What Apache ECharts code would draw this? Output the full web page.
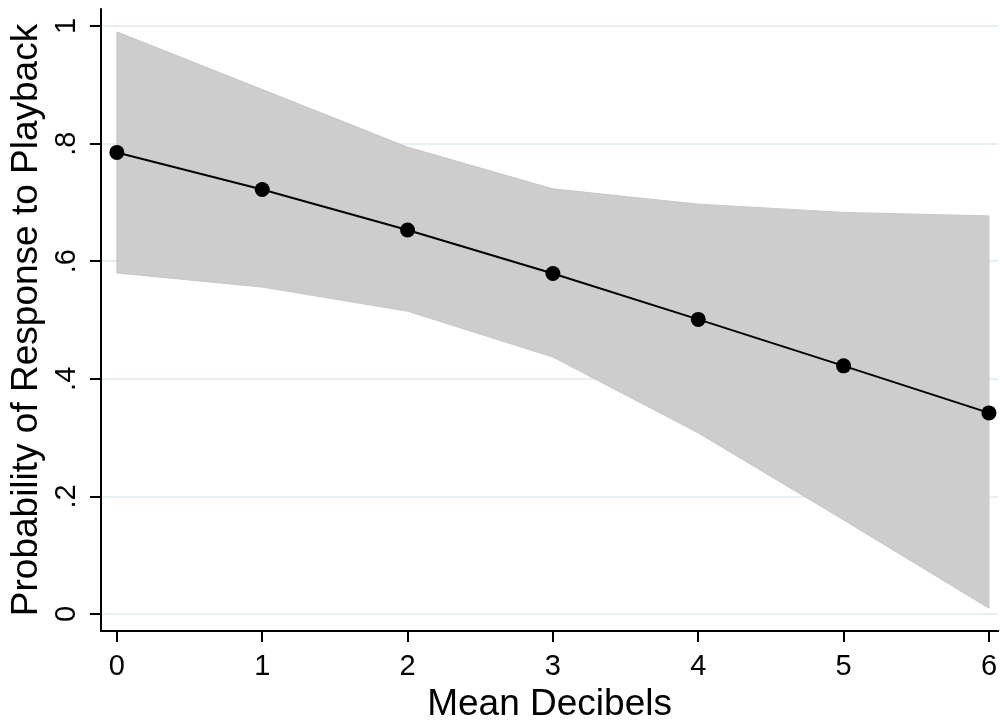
<!DOCTYPE html>
<html>
<head>
<meta charset="utf-8">
<script src="https://cdn.jsdelivr.net/npm/echarts@6/dist/echarts.min.js"></script>
<style>
html,body{margin:0;padding:0;background:#fff;}
#chart{width:1000px;height:728px;}
</style>
</head>
<body>
<div id="chart"></div>
<script>
// Data
var xValues = [0, 1, 2, 3, 4, 5, 6];
var predicted = [0.785, 0.722, 0.653, 0.579, 0.501, 0.422, 0.342];
var upperCI = [0.990, 0.892, 0.794, 0.723, 0.697, 0.683, 0.677];
var lowerCI = [0.580, 0.556, 0.515, 0.437, 0.308, 0.160, 0.010];
var xTicks = [0, 1, 2, 3, 4, 5, 6];
var xTickLabels = ['0', '1', '2', '3', '4', '5', '6'];
var yTicks = [0, 0.2, 0.4, 0.6, 0.8, 1];
var yTickLabels = ['0', '.2', '.4', '.6', '.8', '1'];

var FONT = '"Liberation Sans", Arial, sans-serif';

function pairs(ys) {
  return xValues.map(function (x, i) { return [x, ys[i]]; });
}
var bandData = xValues.map(function (x, i) { return [x, lowerCI[i], upperCI[i]]; });

function labelFor(ticks, labels) {
  return function (v) {
    for (var i = 0; i < ticks.length; i++) {
      if (Math.abs(ticks[i] - v) < 1e-6) return labels[i];
    }
    return '';
  };
}

function renderBand(params, api) {
  if (params.dataIndex !== 0) return null;
  var pts = [];
  for (var i = 0; i < bandData.length; i++) {
    pts.push(api.coord([bandData[i][0], bandData[i][2]]));
  }
  for (var j = bandData.length - 1; j >= 0; j--) {
    pts.push(api.coord([bandData[j][0], bandData[j][1]]));
  }
  return {
    type: 'polygon',
    shape: {points: pts},
    style: {fill: '#cdcdcd', stroke: '#c6c6c6', lineWidth: 1}
  };
}

var chart = echarts.init(document.getElementById('chart'), null, {renderer: 'canvas'});
chart.setOption({
  animation: false,
  backgroundColor: '#ffffff',
  grid: {left: 100, right: 0, top: 9, bottom: 97, containLabel: false},
  xAxis: {
    type: 'value',
    min: -0.1098,
    max: 6.064,
    name: 'Mean Decibels',
    nameLocation: 'middle',
    nameGap: 52,
    nameTextStyle: {fontFamily: FONT, fontSize: 37, color: '#000'},
    axisLine: {show: true, onZero: false, lineStyle: {color: '#000', width: 2}},
    axisTick: {show: true, length: 11, lineStyle: {color: '#000', width: 2}, customValues: xTicks},
    axisLabel: {customValues: xTicks, formatter: labelFor(xTicks, xTickLabels), fontFamily: FONT, fontSize: 29, color: '#000', margin: 21},
    splitLine: {show: false}
  },
  yAxis: {
    type: 'value',
    min: -0.0289,
    max: 1.0289,
    name: 'Probability of Response to Playback',
    nameLocation: 'middle',
    nameGap: 41,
    nameRotate: 90,
    nameTextStyle: {fontFamily: FONT, fontSize: 37, color: '#000'},
    axisLine: {show: true, onZero: false, lineStyle: {color: '#000', width: 2}},
    axisTick: {show: true, length: 11, lineStyle: {color: '#000', width: 2}, customValues: yTicks},
    axisLabel: {customValues: yTicks, formatter: labelFor(yTicks, yTickLabels), rotate: 90, fontFamily: FONT, fontSize: 29, color: '#000', margin: 19},
    splitLine: {show: true, lineStyle: {color: '#e8eff2', width: 2}}
  },
  series: [
    {
      name: 'ci',
      type: 'custom',
      data: bandData,
      encode: {x: 0, y: [1, 2]},
      renderItem: renderBand,
      clip: true,
      z: 1,
      silent: true
    },
    {
      name: 'predicted',
      type: 'line',
      data: pairs(predicted),
      symbol: 'circle',
      symbolSize: 15,
      showSymbol: true,
      itemStyle: {color: '#000'},
      lineStyle: {color: '#000', width: 2},
      z: 3,
      silent: true
    }
  ]
});
</script>
</body>
</html>
